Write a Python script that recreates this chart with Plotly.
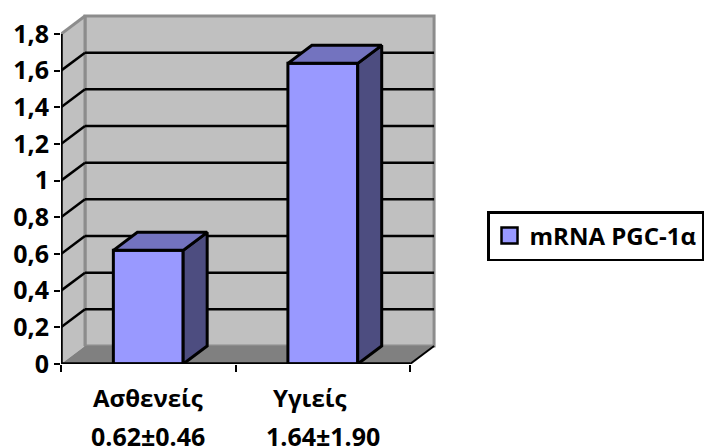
import plotly.graph_objects as go

# Chart data
groups = ["Ασθενείς", "Υγιείς"]
group_stats = ["0.62±0.46", "1.64±1.90"]
means = [0.62, 1.64]
series_name = "mRNA PGC-1α"
y_ticks = [0, 0.2, 0.4, 0.6, 0.8, 1.0, 1.2, 1.4, 1.6, 1.8]
y_tick_labels = ["0", "0,2", "0,4", "0,6", "0,8", "1", "1,2", "1,4", "1,6", "1,8"]
x_edges = [-0.5, 0.5, 1.5]

# Oblique projection of the depth axis, in data units
DX = 0.1375
DY = 0.098
BAR_W = 0.4
Y_TOP = y_ticks[-1]

FONT = "Open Sans"
FRONT, SIDE, TOP = "#9999FF", "#4D4D80", "#7373BF"
WALL, FLOOR, EDGE = "#C0C0C0", "#808080", "#8C8C8C"
# Horizontal nudge of the group names, in pixels
GROUP_NAME_SHIFT = [0, -13]


def path(points):
    return "M " + " L ".join(f"{x},{y}" for x, y in points) + " Z"


def poly_shape(points, fill, line=None, width=0):
    return dict(type="path", xref="x", yref="y", layer="below", path=path(points),
                fillcolor=fill, line=dict(color=line or fill, width=width))


def seg_shape(p, q, color, width):
    return dict(type="line", xref="x", yref="y", layer="below",
                x0=p[0], y0=p[1], x1=q[0], y1=q[1], line=dict(color=color, width=width))


x0, x1 = x_edges[0], x_edges[-1]
shapes = [
    # back wall, side wall, floor
    poly_shape([(x0 + DX, DY), (x1 + DX, DY), (x1 + DX, Y_TOP + DY), (x0 + DX, Y_TOP + DY)], WALL, EDGE, 3),
    poly_shape([(x0, 0), (x0 + DX, DY), (x0 + DX, Y_TOP + DY), (x0, Y_TOP)], WALL),
    poly_shape([(x0, 0), (x1, 0), (x1 + DX, DY), (x0 + DX, DY)], FLOOR),
    seg_shape((x0, Y_TOP), (x0 + DX, Y_TOP + DY), EDGE, 3),
    seg_shape((x0 + DX, DY), (x0 + DX, Y_TOP + DY), EDGE, 3),
    seg_shape((x1, 0), (x1 + DX, DY), "#000000", 2),
]
# Gridlines wrap from the side wall on to the back wall
for t in y_ticks[1:-1]:
    shapes.append(seg_shape((x0, t), (x0 + DX, t + DY), "#000000", 2.5))
    shapes.append(seg_shape((x0 + DX, t + DY), (x1 + DX, t + DY), "#000000", 2.5))

fig = go.Figure()
fig.add_trace(go.Bar(
    x=[0, 1], y=means, width=BAR_W, showlegend=False, cliponaxis=False,
    marker=dict(color=FRONT, line=dict(color="#000000", width=3)),
    hoverinfo="skip",
))
# Legend entry with a larger square swatch than a bar key provides
fig.add_trace(go.Scatter(
    x=[None], y=[None], mode="markers", name=f"<b>{series_name}</b>",
    marker=dict(symbol="square", size=16, color=FRONT, line=dict(color="#000000", width=2.5)),
))


def face(points, color):
    xs = [p[0] for p in points] + [points[0][0]]
    ys = [p[1] for p in points] + [points[0][1]]
    fig.add_trace(go.Scatter(x=xs, y=ys, mode="lines", fill="toself", fillcolor=color,
                             line=dict(color="#000000", width=3), showlegend=False,
                             hoverinfo="skip", cliponaxis=False))


for i, v in enumerate(means):
    left, right = i - BAR_W / 2, i + BAR_W / 2
    face([(right, 0), (right + DX, DY), (right + DX, v + DY), (right, v)], SIDE)
    face([(left, v), (right, v), (right + DX, v + DY), (left + DX, v + DY)], TOP)

# Front axis lines stop at the last tick, short of the wall depth
for xs, ys in [([x0, x1], [0, 0]), ([x0, x0], [0, Y_TOP])]:
    fig.add_trace(go.Scatter(x=xs, y=ys, mode="lines", line=dict(color="#000000", width=3.5),
                             showlegend=False, hoverinfo="skip", cliponaxis=False))

annotations = []
for i in range(len(groups)):
    annotations.append(dict(x=i, y=0, xref="x", yref="y", text=f"<b>{groups[i]}</b>", showarrow=False,
                            xshift=GROUP_NAME_SHIFT[i], yshift=-33,
                            font=dict(family=FONT, size=24, color="#000000")))
    annotations.append(dict(x=i, y=0, xref="x", yref="y", text=f"<b>{group_stats[i]}</b>", showarrow=False,
                            yshift=-72, font=dict(family=FONT, size=25, color="#000000")))

fig.update_layout(
    width=704, height=446, autosize=False,
    margin=dict(l=61, r=266, t=12, b=82, autoexpand=False),
    paper_bgcolor="#FFFFFF", plot_bgcolor="rgba(0,0,0,0)",
    shapes=shapes, annotations=annotations,
    showlegend=True,
    legend=dict(xref="paper", yref="paper", x=1.13, y=0.3636, xanchor="left", yanchor="middle",
                font=dict(family=FONT, size=24, color="#000000"), bgcolor="#FFFFFF",
                bordercolor="#000000", borderwidth=2.5, itemwidth=30,
                entrywidth=210, entrywidthmode="pixels"),
    font=dict(family=FONT, color="#000000"),
)
fig.update_xaxes(range=[-0.5, 1.66], showgrid=False, zeroline=False, showline=False,
                 tickvals=x_edges, ticktext=["", "", ""], ticks="outside", ticklen=7,
                 tickwidth=2, tickcolor="#000000", fixedrange=True)
fig.update_yaxes(range=[0, 1.92], showgrid=False, zeroline=False, showline=False,
                 tickvals=y_ticks, ticktext=[f"<b>{s}</b>" for s in y_tick_labels],
                 ticks="outside", ticklen=6, tickwidth=2, tickcolor="#000000",
                 tickfont=dict(family=FONT, size=25, color="#000000"), fixedrange=True)

fig.write_html("out.html", config={"displayModeBar": False})
